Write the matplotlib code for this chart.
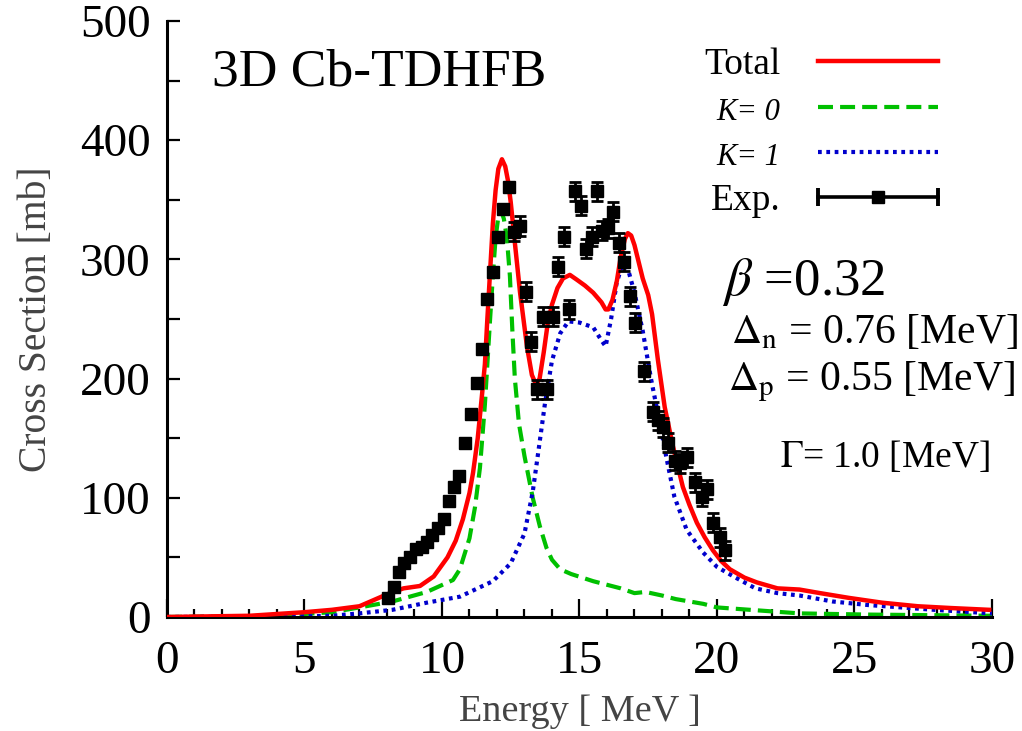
import numpy as np
import matplotlib
matplotlib.use("Agg")
import matplotlib.pyplot as plt
from matplotlib.lines import Line2D
from matplotlib.legend_handler import HandlerLine2D, HandlerTuple

plt.rcParams['font.family'] = ['Liberation Serif', 'DejaVu Serif']
plt.rcParams['mathtext.fontset'] = 'stix'

# Total (TDHFB strength, smoothed)
e_tot = [0, 3, 5, 6, 7, 7.4, 8.0, 8.6, 9.2, 9.7, 10.2, 10.5, 10.76, 11.0, 11.13, 11.3,
         11.45, 11.56, 11.65, 11.75, 11.85, 11.95, 12.05, 12.18, 12.3, 12.4, 12.5,
         12.65, 12.84, 13.09, 13.27, 13.42, 13.55, 13.7, 13.85, 14.0, 14.2, 14.4, 14.65,
         14.9, 15.2, 15.5, 15.8, 15.95, 16.05, 16.2, 16.36, 16.5, 16.65, 16.76, 16.88,
         17.0, 17.15, 17.3, 17.5, 17.64, 17.85, 18.1, 18.4, 18.76, 19.0, 19.27, 19.55,
         19.85, 20.15, 20.47, 21.0, 21.45, 22.2, 23.0, 23.75, 24.8, 26.0, 27.3, 28.5, 29.9]
s_tot = [0, 1, 4, 6, 9, 13, 19, 24, 26, 34, 50, 64, 82, 104, 121, 150,
         185, 212, 250, 290, 330, 358, 376, 384, 378, 366, 348,
         314, 272, 227, 203, 195, 200, 222, 247, 262, 276, 284, 287,
         283, 278, 272, 264, 258, 258, 266, 282, 302, 317, 322, 320,
         312, 298, 284, 270, 254, 216, 176, 143, 109, 94, 79, 67,
         56, 47, 40, 33, 29, 24, 23, 20, 16, 12, 9, 7.5, 6]

# K = 0 component
e_k0 = [0, 4, 6, 7, 8.2, 9.45, 10.4, 10.65, 11.0, 11.2, 11.38, 11.56, 11.75, 11.85,
        11.95, 12.05, 12.15, 12.25, 12.36, 12.47, 12.56, 12.65, 12.8, 13.0, 13.3,
        13.56, 13.8, 14.0, 14.3, 14.7, 15.5, 16.5, 17.0, 17.4, 18.0, 18.5, 19.5, 20.0,
        21.2, 23.0, 25.5, 30.0]
s_k0 = [0, 1, 4, 8, 13, 21, 31, 40, 66, 92, 125, 178, 250, 286,
        318, 336, 341, 334, 318, 286, 240, 200, 162, 135, 100,
        76, 58, 48, 40, 36, 30, 24, 20, 21, 18, 15, 11, 8,
        6, 3, 2, 1]

# K = 1 component
e_k1 = [0, 5, 6, 7, 8.2, 9.45, 10.65, 11.85, 12.5, 13.0, 13.3, 13.5, 13.75, 14.0,
        14.3, 14.6, 15.0, 15.5, 15.8, 15.95, 16.15, 16.35, 16.55, 16.75, 17.0, 17.3,
        17.6, 17.9, 18.15, 18.45, 18.9, 19.5, 20.0, 20.6, 21.4, 22.2, 23.0, 24.2,
        25.5, 26.7, 27.9, 30.0]
s_k1 = [0, 0.5, 1, 3, 6, 12, 17, 30, 45, 70, 105, 138, 180, 215,
        238, 248, 247, 243, 232, 227, 250, 280, 295, 293, 272, 240,
        200, 165, 135, 101, 73, 54, 42, 34, 24, 20, 18, 13,
        10, 8, 6, 3]

# experimental photoabsorption data
e_exp = [8.04, 8.25, 8.44, 8.62, 8.84, 9.05, 9.27, 9.45, 9.64, 9.85, 10.07, 10.25,
         10.44, 10.62, 10.84, 11.05, 11.27, 11.45, 11.64, 11.85, 12.04, 12.22, 12.44,
         12.62, 12.84, 13.05, 13.24, 13.45, 13.67, 13.82, 14.04, 14.22, 14.44, 14.62,
         14.84, 15.05, 15.24, 15.45, 15.64, 15.82, 16.04, 16.22, 16.44, 16.62, 16.84,
         17.02, 17.35, 17.67, 17.85, 18.04, 18.22, 18.47, 18.65, 18.91, 19.2, 19.45,
         19.64, 19.85, 20.1, 20.29]
s_exp = [16, 25, 38, 45, 50, 57, 59, 63, 69, 75, 82, 97,
         109, 118, 146, 170, 196, 225, 267, 289, 319, 342, 361,
         323, 328, 273, 231, 191, 252, 191, 252, 294, 319, 258,
         357, 345, 309, 319, 357, 324, 326, 340, 314, 298, 269,
         247, 206, 172, 165, 159, 146, 131, 129, 134, 113, 101,
         107, 79, 67, 56]
err_exp = [0] * 23 + [8] * 37

fig = plt.figure(figsize=(10.22, 7.31), dpi=100)
ax = fig.add_axes([0.1634, 0.1560, 0.8072, 0.8153])

ax.plot(e_tot, s_tot, color='#ff0000', lw=3.2, solid_joinstyle='round', zorder=3)
ax.plot(e_k0, s_k0, color='#00c000', lw=3.0, dashes=(3.6, 1.7), zorder=2)
ax.plot(e_k1, s_k1, color='#0000cc', lw=3.0, dashes=(0.9, 1.1), zorder=2)
ax.errorbar(e_exp, s_exp, yerr=err_exp, fmt='s', color='black', ms=8,
            elinewidth=2, capsize=4.5, capthick=2, zorder=4)

ax.set_xlim(0, 30)
ax.set_ylim(0, 500)
ax.set_xticks(np.arange(0, 31, 5))
ax.set_xticks(np.arange(0, 31, 1), minor=True)
ax.set_yticks(np.arange(0, 501, 100))
ax.set_yticks(np.arange(0, 501, 50), minor=True)
for side in ['top', 'right']:
    ax.spines[side].set_visible(False)
for side in ['left', 'bottom']:
    ax.spines[side].set_linewidth(2.2)
ax.tick_params(axis='both', which='both', direction='in', width=1.6, labelsize=34)
ax.tick_params(axis='y', which='both', length=9, pad=12)
ax.tick_params(axis='x', which='major', length=13, pad=17)
ax.tick_params(axis='x', which='minor', length=6)

ax.set_xlabel('Energy [ MeV ]', fontsize=27.5, color='#444444', labelpad=8)
ax.set_ylabel('Cross Section [mb]', fontsize=28.5, color='#444444', labelpad=18)

ax.text(1.65, 457, '3D Cb-TDHFB', fontsize=38.5, va='center', ha='left')
ax.text(20.2, 281, r'$\beta$ =0.32', fontsize=38, va='center', ha='left')
ax.text(20.5, 239, r'$\Delta_{\rm n}$ = 0.76 [MeV]', fontsize=30, va='center', ha='left')
ax.text(20.4, 197, r'$\Delta_{\rm p}$ = 0.55 [MeV]', fontsize=30, va='center', ha='left')
ax.text(22.3, 134, r'$\Gamma$= 1.0 [MeV]', fontsize=27, va='center', ha='left')

# legend in gnuplot style
h_tot = Line2D([], [], color='#ff0000', lw=3.2)
h_k0 = Line2D([], [], color='#00c000', lw=3.0, dashes=(3.6, 1.7))
h_k1 = Line2D([], [], color='#0000cc', lw=3.0, dashes=(0.9, 1.1))
h_bar = Line2D([], [], color='black', lw=2.6, marker='|', ms=13, mew=2.8)
h_sq = Line2D([], [], color='black', lw=0, marker='s', ms=8)
leg = ax.legend([h_tot, h_k0, h_k1, (h_bar, h_sq)],
                ['Total', 'K= 0', 'K= 1', 'Exp.'],
                handler_map={h_bar: HandlerLine2D(numpoints=2, marker_pad=0),
                             tuple: HandlerTuple(ndivide=1)},
                loc='upper right', bbox_to_anchor=(0.9345, 0.955),
                frameon=False, markerfirst=False, fontsize=27,
                handlelength=3.2, handletextpad=1.0, labelspacing=0.31,
                borderpad=0, borderaxespad=0)
for t in leg.get_texts()[1:3]:
    t.set_style('italic')
    t.set_fontsize(22)

fig.savefig('out.png', dpi=100)
